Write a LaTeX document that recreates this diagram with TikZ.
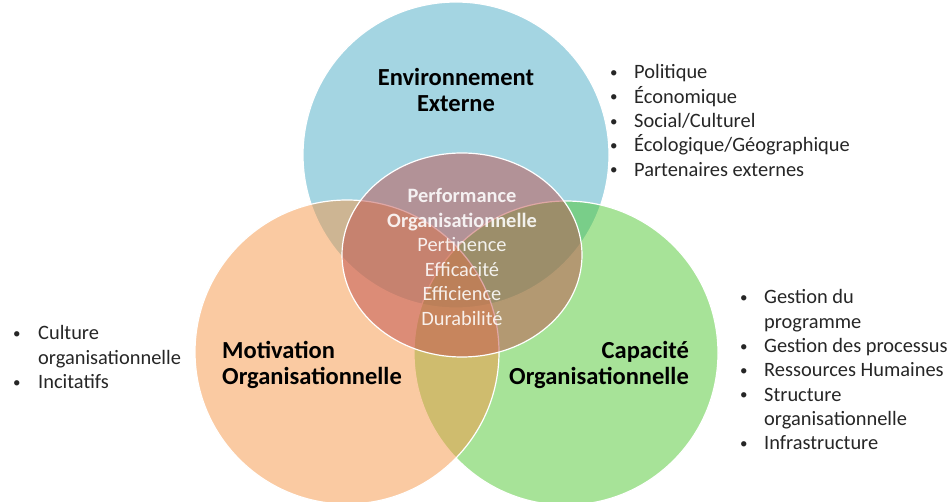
\documentclass[tikz,border=0pt]{standalone}
\usepackage{fontspec}
\setmainfont{Carlito}
\usetikzlibrary{shapes.geometric}
\definecolor{cblue}{RGB}{75,172,198}
\definecolor{cgreen}{RGB}{80,200,50}
\definecolor{corange}{RGB}{247,150,70}
\definecolor{cred}{RGB}{192,80,77}
\newcommand{\smallbul}{\raisebox{1.5pt}{\fontsize{15}{15}\selectfont •}}
\tikzset{
  venn/.style={circle, inner sep=0pt, minimum size=#1, fill opacity=0.5, draw=white, line width=1.2pt, draw opacity=1},
  title/.style={font=\fontsize{24.5}{26}\selectfont\bfseries, text=black, inner sep=0pt},
  listtext/.style={font=\fontsize{20.4}{24.3}\selectfont, text=black!85, inner sep=0pt, anchor=base west},
}
\begin{document}
\begin{tikzpicture}[x=1pt,y=-1pt]
\useasboundingbox (0,0) rectangle (950,502);
\fill[white] (0,0) rectangle (950,502);
% circles
\node[venn=306pt, fill=cblue] (ext) at (456,155) {};
\node[venn=304pt, fill=cgreen] (cap) at (566,353) {};
\node[venn=304pt, fill=corange] (mot) at (347,352) {};
\node[ellipse, inner sep=0pt, minimum width=240pt, minimum height=204pt, fill=cred, fill opacity=0.5, draw=white, line width=1.2pt] (perf) at (462,255) {};
% titles
\node[title, align=center] (extT) at (456,90) {Environnement\\Externe};
\node[title, align=left, anchor=west] (motT) at (222,365) {Motivation\\Organisationnelle};
\node[title, align=right, anchor=east] (capT) at (689,365) {Capacité\\Organisationnelle};
% center text
\node[align=center, text=white, text opacity=0.88, inner sep=0pt, font=\fontsize{20.4}{24.5}\selectfont] (perfT) at (462,257)
  {\textbf{Performance}\\\textbf{Organisationnelle}\\Pertinence\\Efficacité\\Efficience\\Durabilité};
% lists
\node[listtext] (extL) at (610,79) {\begin{tabular}[t]{@{}p{24pt}@{}l@{}}
\smallbul&Politique\\
\smallbul&Économique\\
\smallbul&Social/Culturel\\
\smallbul&Écologique/Géographique\\
\smallbul&Partenaires externes
\end{tabular}};
\node[listtext] (motL) at (13,340) {\begin{tabular}[t]{@{}p{25pt}@{}l@{}}
\smallbul&Culture\\
&organisationnelle\\
\smallbul&Incitatifs
\end{tabular}};
\node[listtext] (capL) at (740,304) {\begin{tabular}[t]{@{}p{24pt}@{}l@{}}
\smallbul&Gestion du\\
&programme\\
\smallbul&Gestion des processus\\
\smallbul&Ressources Humaines\\
\smallbul&Structure\\
&organisationnelle\\
\smallbul&Infrastructure
\end{tabular}};
\end{tikzpicture}
\end{document}
